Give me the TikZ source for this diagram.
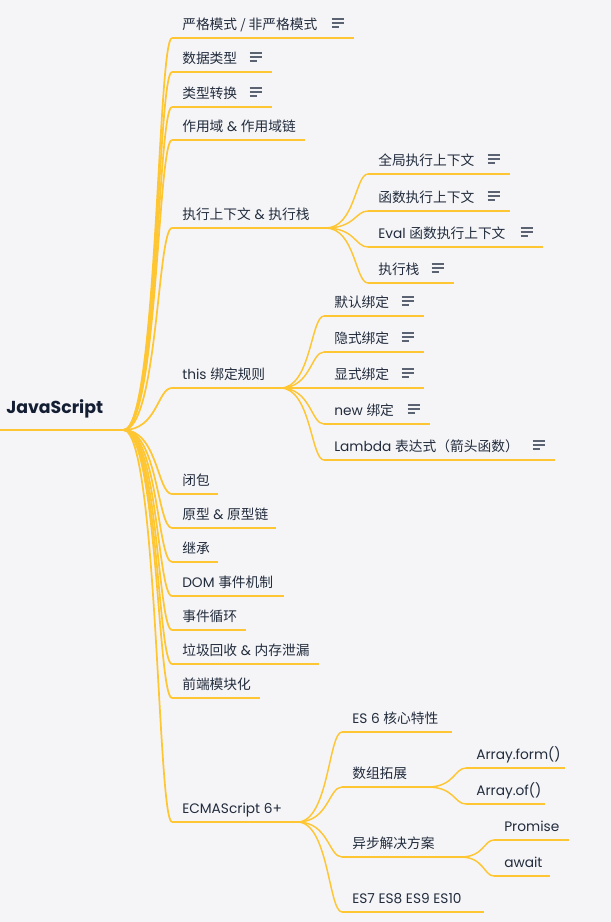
\documentclass[tikz,border=0pt]{standalone}
\usepackage{fontspec}
\setmainfont{Poppins}
\newfontfamily\cjk{Noto Sans CJK SC}
\usetikzlibrary{calc}

\definecolor{bgcol}{HTML}{F5F5F8}
\definecolor{ink}{HTML}{222C3C}
\definecolor{rootink}{HTML}{141E33}
\definecolor{gold}{HTML}{FFC633}
\definecolor{notegray}{HTML}{5B6372}
\newdimen\px \px=0.75pt

\tikzset{
  topic/.style={anchor=south west, inner xsep=7.5pt, inner ysep=6.2pt, text depth=0pt,
    text=ink, font=\fontsize{10.3}{12}\selectfont},
  ulen/.style={execute at begin node={\hbox to #1\px\bgroup}, execute at end node={\hss\egroup}},
  uline/.style={draw=gold, line width=1.3pt},
  branch/.style={draw=gold, line width=1.3pt,
    to path={.. controls ($(\tikztostart)!0.7!(\tikztotarget|-\tikztostart)$)
      and ($(\tikztotarget)!0.3!(\tikztostart|-\tikztotarget)$) .. (\tikztotarget)}},
  note/.pic={\draw[notegray, line width=1.5pt] (0,-4) -- (12,-4) (0,0) -- (12,0) (0,4) -- (7,4);}
}

\begin{document}
\begin{tikzpicture}[x=0.75pt, y=-0.75pt]
\useasboundingbox (0,0) rectangle (611,922);
\fill[bgcol] (0,0) rectangle (611,922);

% root
\node[topic, inner xsep=4.5pt, inner ysep=12.2pt, ulen=111, text=rootink,
  font=\fontsize{13}{15}\selectfont\bfseries] (root) at (0,430) {JavaScript};

% first level
\node[topic, ulen=161] (strict) at (172,38) {\cjk 严格模式 / 非严格模式};
\node[topic, ulen=79] (types) at (172,72) {\cjk 数据类型};
\node[topic, ulen=79] (conv) at (172,107) {\cjk 类型转换};
\node[topic, ulen=112] (scope) at (172,140) {{\cjk 作用域} \& {\cjk 作用域链}};
\node[topic, ulen=133] (ctx) at (172,228) {{\cjk 执行上下文} \& {\cjk 执行栈}};
\node[topic, ulen=88] (this) at (172,388) {this {\cjk 绑定规则}};
\node[topic, ulen=25] (closure) at (172,494) {\cjk 闭包};
\node[topic, ulen=83] (proto) at (172,528) {{\cjk 原型} \& {\cjk 原型链}};
\node[topic, ulen=25] (inherit) at (172,562) {\cjk 继承};
\node[topic, ulen=91] (dom) at (172,596) {DOM {\cjk 事件机制}};
\node[topic, ulen=53] (loop) at (172,630) {\cjk 事件循环};
\node[topic, ulen=126] (gc) at (172,664) {{\cjk 垃圾回收} \& {\cjk 内存泄漏}};
\node[topic, ulen=67] (module) at (172,698) {\cjk 前端模块化};
\node[topic, ulen=105] (es) at (172,822) {ECMAScript 6+};

% execution context
\node[topic, ulen=121] (allctx) at (368,174) {\cjk 全局执行上下文};
\node[topic, ulen=121] (fnctx) at (368,211) {\cjk 函数执行上下文};
\node[topic, ulen=154] (evalctx) at (368,247) {Eval {\cjk 函数执行上下文}};
\node[topic, ulen=65] (stack) at (368,283) {\cjk 执行栈};

% this binding
\node[topic, ulen=79] (dflt) at (324,316) {\cjk 默认绑定};
\node[topic, ulen=79] (impl) at (324,352) {\cjk 隐式绑定};
\node[topic, ulen=79] (expl) at (324,388) {\cjk 显式绑定};
\node[topic, ulen=85] (newb) at (324,424) {new {\cjk 绑定}};
\node[topic, ulen=210] (lambda) at (324,460) {Lambda {\cjk 表达式（箭头函数）}};

% ES6+
\node[topic, ulen=89] (core) at (342,732) {ES 6 {\cjk 核心特性}};
\node[topic, ulen=65] (arr) at (342,787) {\cjk 数组拓展};
\node[topic, ulen=98] (async) at (342,857) {\cjk 异步解决方案};
\node[topic, ulen=121] (later) at (342,912) {ES7 ES8 ES9 ES10};
\node[topic, ulen=78] (from) at (466,768) {Array.form()};
\node[topic, ulen=58] (of) at (466,804) {Array.of()};
\node[topic, ulen=54] (promise) at (494,840) {Promise};
\node[topic, ulen=35] (await) at (494,876) {await};

% connectors
\foreach \n in {strict,types,conv,scope,ctx,this,closure,proto,inherit,dom,loop,gc,module,es}
  \draw[branch] (root.south east) to (\n.south west);
\foreach \n in {allctx,fnctx,evalctx,stack}
  \draw[branch, line width=1.1pt] (ctx.south east) to (\n.south west);
\foreach \n in {dflt,impl,expl,newb,lambda}
  \draw[branch, line width=1.1pt] (this.south east) to (\n.south west);
\foreach \n in {core,arr,async,later}
  \draw[branch, line width=1.1pt] (es.south east) to (\n.south west);
\foreach \n in {from,of}
  \draw[branch, line width=1.1pt] (arr.south east) to (\n.south west);
\foreach \n in {promise,await}
  \draw[branch, line width=1.1pt] (async.south east) to (\n.south west);

% underlines
\foreach \n in {root,strict,types,conv,scope,ctx,this,closure,proto,inherit,dom,loop,gc,module,es}
  \draw[uline] (\n.south west) -- (\n.south east);
\foreach \n in {allctx,fnctx,evalctx,stack,dflt,impl,expl,newb,lambda,core,arr,async,later,from,of,promise,await}
  \draw[uline, line width=1.1pt] (\n.south west) -- (\n.south east);

% notes
\foreach \n in {strict,types,conv,allctx,fnctx,evalctx,stack,dflt,impl,expl,newb,lambda}
  \pic at ([shift={(-22,-15)}]\n.south east) {note};
\end{tikzpicture}
\end{document}
